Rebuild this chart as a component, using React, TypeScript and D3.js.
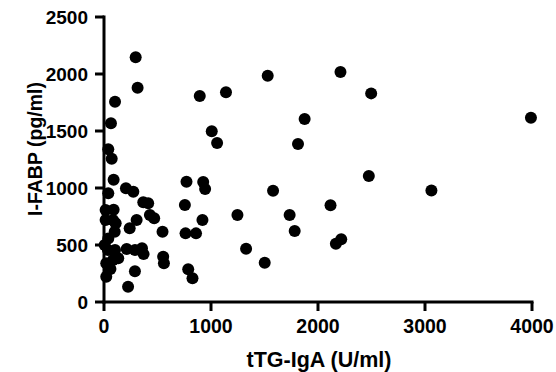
import React from "react"
import * as d3 from "d3"

// tTG-IgA (U/ml) and I-FABP (pg/ml), one entry per subject
const TTG_IGA = [
  3990, 3060, 2497, 2475, 2210, 2217, 2167, 2117, 1875, 1813, 1782, 1735, 1580,
  1530, 1502, 1328, 1247, 1140, 1057, 1007, 945, 927, 920, 895, 860, 762, 771,
  756, 787, 827, 553, 560, 547, 469, 429, 413, 367, 305, 296, 314, 274, 205,
  240, 212, 290, 355, 370, 289, 225, 133, 84, 103, 37, 6, 40, 100, 109, 15, 84,
  15, 90, 40, 90, 72, 40, 65, 103, 21, 60, 21,
]
const I_FABP = [
  1616, 979, 1830, 1105, 2017, 550, 511, 848, 1605, 1386, 623, 763, 976, 1985,
  345, 467, 763, 1840, 1395, 1497, 991, 1052, 719, 1807, 602, 602, 1055, 851,
  287, 208, 397, 339, 617, 734, 763, 866, 874, 719, 2147, 1880, 967, 997, 646,
  465, 456, 471, 420, 270, 134, 383, 368, 456, 456, 500, 558, 617, 690, 719,
  719, 807, 810, 953, 1072, 1257, 1339, 1567, 1757, 339, 290, 222,
]
const X_TICKS = [0, 1000, 2000, 3000, 4000]
const Y_TICKS = [0, 500, 1000, 1500, 2000, 2500]

const WIDTH = 556
const HEIGHT = 372
const FONT = "'Liberation Sans', Arial, Helvetica, sans-serif"

export default function App() {
  const x = d3.scaleLinear().domain([0, 4000]).range([104, 532])
  const y = d3.scaleLinear().domain([0, 2500]).range([302, 17])

  const points = TTG_IGA.map((v, i) => ({ x: v, y: I_FABP[i] }))

  return (
    <svg
      width={WIDTH}
      height={HEIGHT}
      style={{ position: "absolute", left: 0, top: 0, background: "#fff" }}
      fontFamily={FONT}
    >
      {/* points */}
      {points.map((d, i) => (
        <circle key={i} cx={x(d.x)} cy={y(d.y)} r={6} fill="#000" />
      ))}

      {/* y axis */}
      <line x1={x(0)} x2={x(0)} y1={y(2500) - 1.5} y2={y(0) + 1.5} stroke="#000" strokeWidth={3} />
      {Y_TICKS.map(t => (
        <g key={t}>
          <line x1={x(0) - 9} x2={x(0)} y1={y(t)} y2={y(t)} stroke="#000" strokeWidth={3} />
          <text
            x={88}
            y={y(t)}
            textAnchor="end"
            dominantBaseline="central"
            fontSize={19}
            fontWeight="bold"
          >
            {t}
          </text>
        </g>
      ))}

      {/* x axis */}
      <line x1={x(0) - 1.5} x2={x(4000) + 1.5} y1={y(0)} y2={y(0)} stroke="#000" strokeWidth={3} />
      {X_TICKS.map(t => (
        <g key={t}>
          <line x1={x(t)} x2={x(t)} y1={y(0)} y2={y(0) + 9} stroke="#000" strokeWidth={3} />
          <text x={x(t)} y={333} textAnchor="middle" fontSize={19.5} fontWeight="bold">
            {t}
          </text>
        </g>
      ))}

      {/* axis titles */}
      <text x={319} y={367} textAnchor="middle" fontSize={21.5} fontWeight="bold">
        tTG-IgA (U/ml)
      </text>
      <text
        transform={`translate(42, 149) rotate(-90)`}
        textAnchor="middle"
        fontSize={19.5}
        fontWeight="bold"
      >
        I-FABP (pg/ml)
      </text>
    </svg>
  )
}
